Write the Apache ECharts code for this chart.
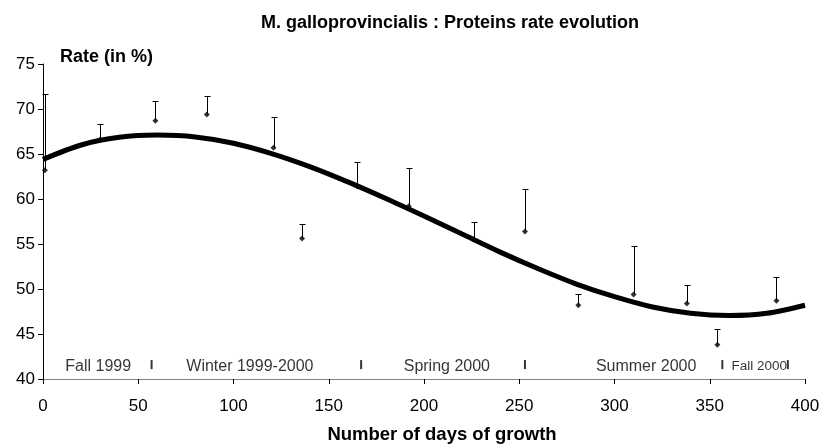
<!DOCTYPE html>
<html>
<head>
<meta charset="utf-8">
<script src="https://cdn.jsdelivr.net/npm/echarts@6/dist/echarts.min.js"></script>
<style>
html,body{margin:0;padding:0;background:#fff;}
#chart{width:825px;height:444px;}
</style>
</head>
<body>
<div id="chart"></div>
<script>
// Measured points: day of growth, mean rate, upper error value
const days   = [1, 30, 59, 86, 121, 136, 165, 192, 226, 253, 281, 310, 338, 354, 385];
const means  = [63.2, 66.6, 68.7, 69.4, 65.7, 55.6, 61.4, 59.2, 55.5, 56.4, 48.2, 49.4, 48.4, 43.8, 48.7];
const uppers = [71.7, 68.3, 70.9, 71.4, 69.1, 57.2, 64.1, 63.5, 57.5, 61.1, 49.5, 54.8, 50.4, 45.6, 51.3];

// Trend curve
const trendDays   = [0, 20, 40, 60, 80, 100, 120, 140, 160, 180, 200, 220, 240, 260, 280, 300, 320, 340, 360, 380, 400];
const trendValues = [64.4, 66.0, 66.85, 67.1, 66.9, 66.2, 65.05, 63.6, 61.9, 60.05, 58.1, 56.1, 54.1, 52.25, 50.55, 49.15, 48.0, 47.3, 47.05, 47.3, 48.2];

// Season labels and separators
const seasonNames   = ['Fall 1999', 'Winter 1999-2000', 'Spring 2000', 'Summer 2000', 'Fall 2000'];
const seasonCenters = [29, 108.6, 212, 316.6, 376];
const seasonBreaks  = [57, 167, 253, 356.6, 391];

const xTicks = [0, 50, 100, 150, 200, 250, 300, 350, 400];
const yTicks = [40, 45, 50, 55, 60, 65, 70, 75];

const FONT = "'Liberation Sans', Arial, sans-serif";

const chart = echarts.init(document.getElementById('chart'));

const errData = days.map((d, i) => [d, means[i], uppers[i]]);
const ptData = days.map((d, i) => [d, means[i]]);
const trendData = trendDays.map((d, i) => [d, trendValues[i]]);
const seasonData = seasonNames.map((n, i) => ({
  value: [seasonCenters[i], 41.4],
  name: n,
  label: { fontSize: i === 4 ? 13.5 : 16 }
}));
const breakData = seasonBreaks.map(d => [d, 41.6]);

chart.setOption({
  animation: false,
  backgroundColor: '#fff',
  grid: { left: 43, right: 20, top: 64, bottom: 65 },
  xAxis: {
    type: 'value',
    min: xTicks[0], max: xTicks[xTicks.length - 1], interval: 50,
    axisLine: { lineStyle: { color: '#808080', width: 1 } },
    axisTick: { show: true, length: 5, lineStyle: { color: '#000' } },
    axisLabel: { color: '#000', fontSize: 17, fontFamily: FONT, margin: 19 },
    splitLine: { show: false }
  },
  yAxis: {
    type: 'value',
    min: yTicks[0], max: yTicks[yTicks.length - 1], interval: 5,
    axisLine: { show: true, lineStyle: { color: '#000', width: 1 } },
    axisTick: { show: true, length: 5, lineStyle: { color: '#000' } },
    axisLabel: { color: '#000', fontSize: 17, fontFamily: FONT, margin: 8 },
    splitLine: { show: false }
  },
  graphic: [
    { type: 'text', x: 450, y: 23,
      style: { text: 'M. galloprovincialis : Proteins rate evolution', fill: '#000',
        font: "bold 18px " + FONT, textAlign: 'center', textVerticalAlign: 'middle' } },
    { type: 'text', x: 60, y: 57,
      style: { text: 'Rate (in %)', fill: '#000',
        font: "bold 18px " + FONT, textAlign: 'left', textVerticalAlign: 'middle' } },
    { type: 'text', x: 442, y: 435,
      style: { text: 'Number of days of growth', fill: '#000',
        font: "bold 18.5px " + FONT, textAlign: 'center', textVerticalAlign: 'middle' } }
  ],
  series: [
    {
      type: 'custom',
      z: 2,
      data: errData,
      renderItem: function (params, api) {
        const x = api.value(0), lo = api.value(1), hi = api.value(2);
        const p0 = api.coord([x, lo]);
        const p1 = api.coord([x, hi]);
        const cx = Math.round(p0[0]) + 0.5;
        const ty = Math.round(p1[1]) + 0.5;
        return {
          type: 'group',
          children: [
            { type: 'line', shape: { x1: cx, y1: p0[1], x2: cx, y2: ty }, style: { stroke: '#000', lineWidth: 1 } },
            { type: 'line', shape: { x1: cx - 3, y1: ty, x2: cx + 3, y2: ty }, style: { stroke: '#000', lineWidth: 1 } }
          ]
        };
      }
    },
    {
      type: 'scatter',
      z: 3,
      data: ptData,
      symbol: 'diamond',
      symbolSize: 6,
      itemStyle: { color: '#000' }
    },
    {
      type: 'line',
      z: 4,
      data: trendData,
      smooth: 0.3,
      showSymbol: false,
      lineStyle: { color: '#000', width: 5 }
    },
    {
      type: 'scatter',
      z: 3,
      data: breakData,
      symbol: 'rect',
      symbolSize: [2, 9],
      itemStyle: { color: '#000' }
    },
    {
      type: 'scatter',
      z: 3,
      data: seasonData,
      symbolSize: 0,
      label: {
        show: true, position: 'inside', color: '#000', fontFamily: FONT,
        formatter: p => p.name
      }
    }
  ]
});
</script>
</body>
</html>
